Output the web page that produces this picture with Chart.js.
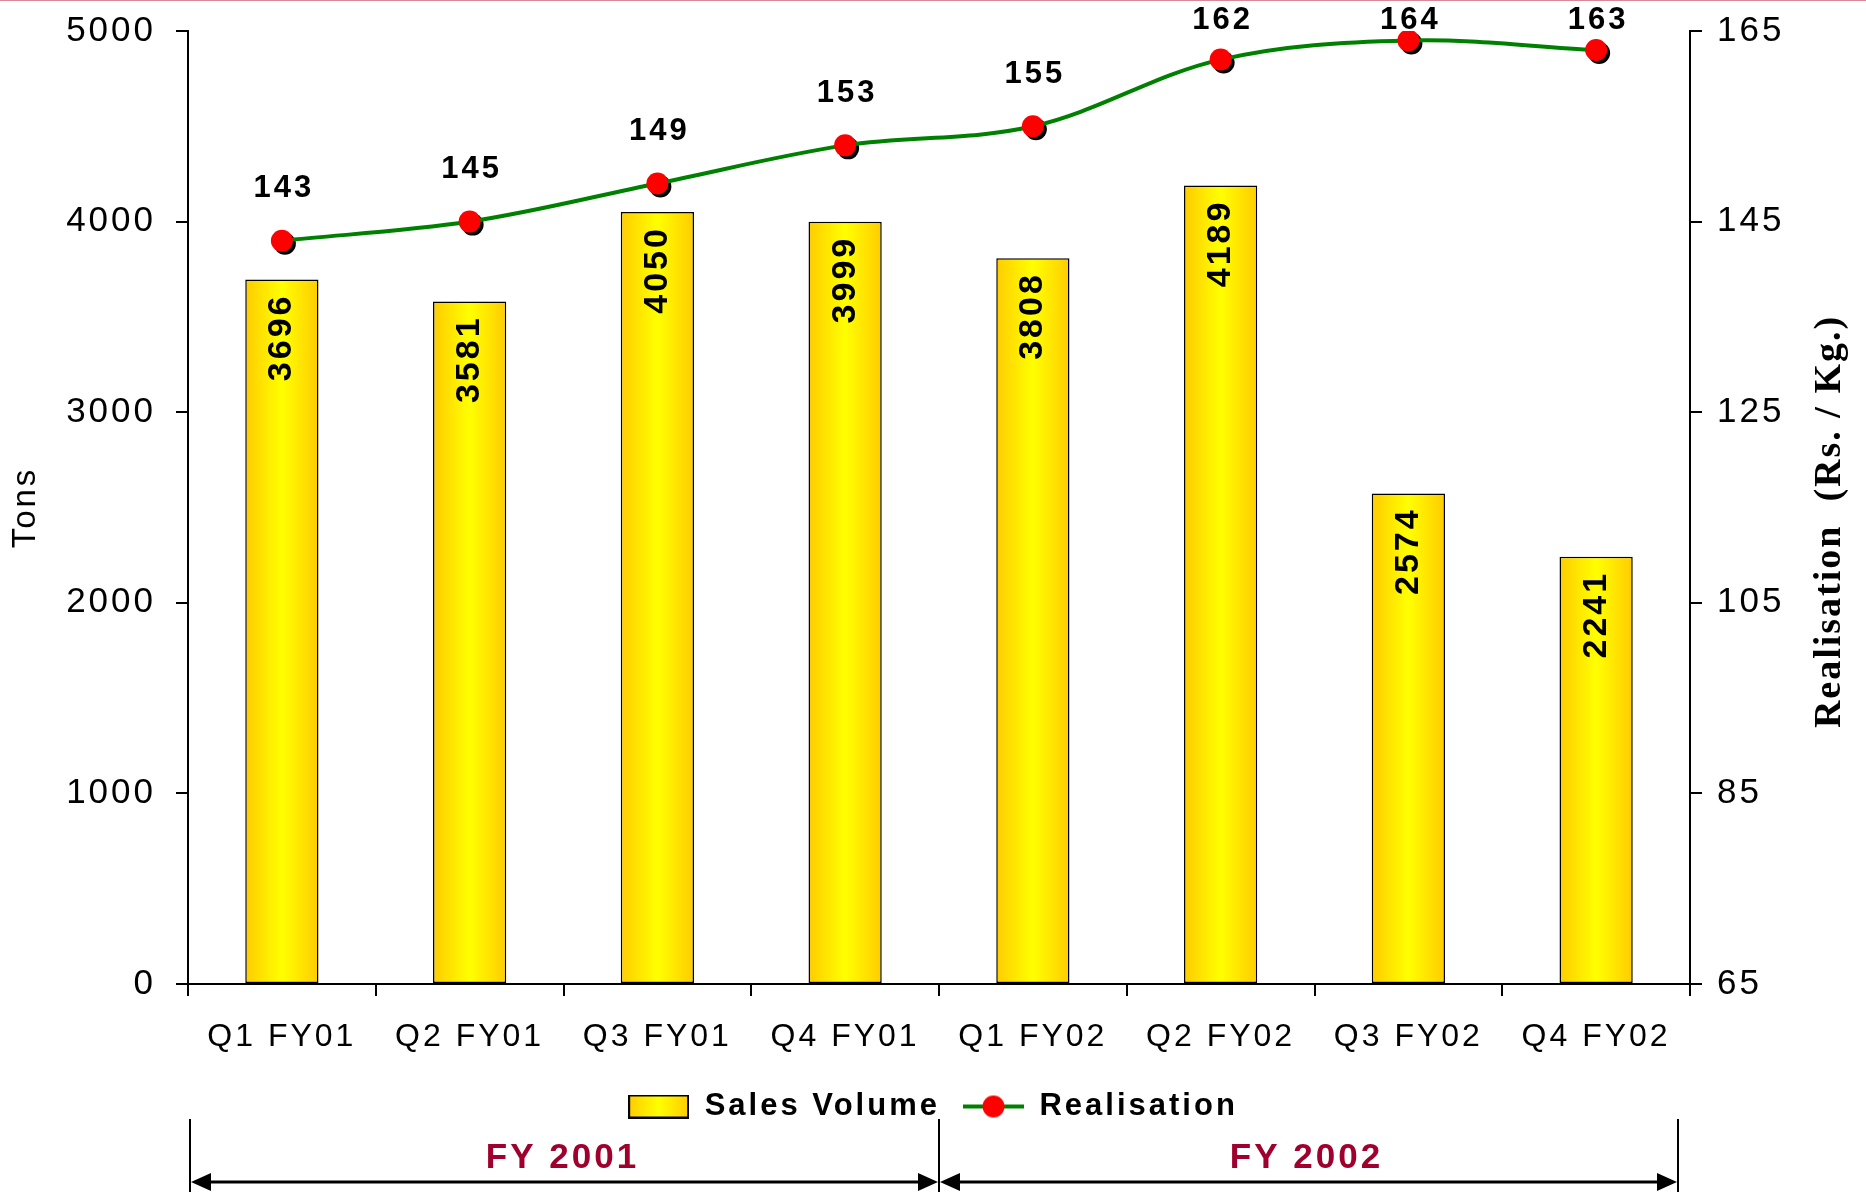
<!DOCTYPE html>
<html>
<head>
<meta charset="utf-8">
<script src="https://cdn.jsdelivr.net/npm/chart.js@4.4.0/dist/chart.umd.min.js"></script>
<style>
  html, body { margin: 0; padding: 0; background: #fff; }
</style>
</head>
<body>
<canvas id="salesChart" width="1866" height="1192"></canvas>
<script>
// values
const quarters = ['Q1 FY01', 'Q2 FY01', 'Q3 FY01', 'Q4 FY01', 'Q1 FY02', 'Q2 FY02', 'Q3 FY02', 'Q4 FY02'];
const salesVolume = [3696, 3581, 4050, 3999, 3808, 4189, 2574, 2241];
const realisation = [143, 145, 149, 153, 155, 162, 164, 163];
const fyLabels = ['FY 2001', 'FY 2002'];
const volumeRange = [0, 5000, 1000];   // min, max, step
const priceRange = [65, 165, 20];

const SANS = '"Liberation Sans", Arial, sans-serif';
const BAR_PCT = 0.39;

function barGradient(ctx, x0, x1) {
  let g = ctx.createLinearGradient(x0, 0, x1, 0);
  g.addColorStop(0, '#FFCC00');
  g.addColorStop(0.5, '#FFFF00');
  g.addColorStop(1, '#FFCC00');
  return g;
}

// bars get a left-to-right gold/yellow fade
function barFill(c) {
  let x = c.chart.scales.x;
  if (c.type !== 'data' || !x) return '#FFEE00';
  let cx = x.getPixelForValue(c.dataIndex);
  let half = x.width / quarters.length * BAR_PCT / 2;
  return barGradient(c.chart.ctx, cx - half, cx + half);
}

// little pictures for the legend
function swatch(w, h, draw) {
  let cv = document.createElement('canvas');
  cv.width = w; cv.height = h;
  draw(cv.getContext('2d'), w, h);
  return cv;
}
const barSwatch = swatch(61, 24, (ctx, w, h) => {
  ctx.fillStyle = barGradient(ctx, 0, w);
  ctx.fillRect(1, 1, w - 2, h - 2);
  ctx.strokeStyle = '#000'; ctx.lineWidth = 2;
  ctx.strokeRect(1, 1, w - 2, h - 2);
});
const lineSwatch = swatch(61, 24, (ctx, w, h) => {
  ctx.strokeStyle = '#008000'; ctx.lineWidth = 4;
  ctx.beginPath(); ctx.moveTo(0, h / 2); ctx.lineTo(w, h / 2); ctx.stroke();
  ctx.fillStyle = '#FF0000';
  ctx.beginPath(); ctx.arc(w / 2, h / 2, 11, 0, Math.PI * 2); ctx.fill();
});

const decor = {
  id: 'decor',
  beforeLayout(chart) { chart.ctx.letterSpacing = '3px'; },
  beforeDraw(chart) {
    let ctx = chart.ctx;
    ctx.letterSpacing = '3px';
    ctx.save();
    ctx.fillStyle = '#D98899';
    ctx.fillRect(0, 0, chart.width, 1);
    ctx.restore();
  },
  beforeDatasetDraw(chart, args) {
    if (chart.data.datasets[args.index].type !== 'line') return;
    let ctx = chart.ctx;
    ctx.save();
    ctx.fillStyle = '#000';
    args.meta.data.forEach(pt => {
      ctx.beginPath(); ctx.arc(pt.x + 3, pt.y + 3, 11, 0, Math.PI * 2); ctx.fill();
    });
    ctx.restore();
  },
  afterDatasetsDraw(chart) {
    let ctx = chart.ctx;
    ctx.save();
    ctx.fillStyle = '#000';
    // volume labels, rotated inside the bars
    ctx.font = 'bold 34px ' + SANS;
    ctx.textAlign = 'right';
    ctx.textBaseline = 'middle';
    chart.getDatasetMeta(0).data.forEach((bar, i) => {
      ctx.save();
      ctx.translate(bar.x, bar.y + 14);
      ctx.rotate(-Math.PI / 2);
      ctx.fillText(salesVolume[i], 0, 0);
      ctx.restore();
    });
    // price labels above the points
    ctx.font = 'bold 31px ' + SANS;
    ctx.textAlign = 'center';
    chart.getDatasetMeta(1).data.forEach((pt, i) => {
      ctx.fillText(realisation[i], pt.x + 2, Math.max(pt.y - 52, 20));
    });
    ctx.restore();
  },
  afterDraw(chart) {
    let ctx = chart.ctx, x = chart.scales.x, area = chart.chartArea;
    ctx.save();
    // right axis title, reading upwards
    ctx.font = 'bold 38px "Liberation Serif", "Times New Roman", serif';
    ctx.letterSpacing = '2px';
    ctx.fillStyle = '#000';
    ctx.textAlign = 'center';
    ctx.textBaseline = 'middle';
    ctx.translate(1830, (area.top + area.bottom) / 2 + 14);
    ctx.rotate(-Math.PI / 2);
    ctx.fillText('Realisation  (Rs. / Kg.)', 0, 0);
    ctx.restore();

    // financial year brackets under the legend
    let xs = [x.left + 2, (x.getPixelForValue(3) + x.getPixelForValue(4)) / 2, x.right - 12];
    let top = chart.height - 73, arrowY = chart.height - 10;
    ctx.save();
    ctx.strokeStyle = '#000';
    ctx.fillStyle = '#000';
    ctx.lineWidth = 2;
    xs.forEach(px => {
      ctx.beginPath(); ctx.moveTo(px, top); ctx.lineTo(px, chart.height); ctx.stroke();
    });
    ctx.lineWidth = 3;
    for (let s = 0; s < 2; s++) {
      let a = xs[s] + 1, b = xs[s + 1] - 1;
      ctx.beginPath(); ctx.moveTo(a + 10, arrowY); ctx.lineTo(b - 10, arrowY); ctx.stroke();
      ctx.beginPath(); ctx.moveTo(a, arrowY); ctx.lineTo(a + 20, arrowY - 9); ctx.lineTo(a + 20, arrowY + 9); ctx.fill();
      ctx.beginPath(); ctx.moveTo(b, arrowY); ctx.lineTo(b - 20, arrowY - 9); ctx.lineTo(b - 20, arrowY + 9); ctx.fill();
    }
    ctx.font = 'bold 35px ' + SANS;
    ctx.fillStyle = '#A0002E';
    ctx.textAlign = 'center';
    ctx.textBaseline = 'middle';
    fyLabels.forEach((t, s) => ctx.fillText(t, (xs[s] + xs[s + 1]) / 2 - 2, chart.height - 34));
    ctx.restore();
  }
};

const axisGrid = { drawOnChartArea: false, color: '#000', lineWidth: 2, tickLength: 12 };
const plainNumber = v => String(v);
// fixed side widths, and no extra room asked for the end labels
const fixWidth = w => s => { s.width = w; s.paddingTop = 0; s.paddingBottom = 0; };

new Chart('salesChart', {
  type: 'bar',
  data: {
    labels: quarters,
    datasets: [{
      type: 'bar',
      label: 'Sales Volume',
      data: salesVolume,
      yAxisID: 'y',
      order: 2,
      backgroundColor: barFill,
      borderColor: '#000',
      borderWidth: 1.5,
      borderSkipped: false,
      barPercentage: BAR_PCT,
      categoryPercentage: 1
    }, {
      type: 'line',
      label: 'Realisation',
      data: realisation,
      yAxisID: 'y1',
      order: 1,
      borderColor: '#008000',
      borderWidth: 4,
      tension: 0.35,
      pointRadius: 11,
      pointHoverRadius: 11,
      pointBackgroundColor: '#FF0000',
      pointBorderWidth: 0
    }]
  },
  options: {
    responsive: false,
    devicePixelRatio: 1,
    animation: false,
    layout: { padding: { top: 31, left: 0, right: 0, bottom: 60 } },
    plugins: {
      tooltip: { enabled: false },
      legend: {
        position: 'bottom',
        labels: {
          usePointStyle: true,
          pointStyleWidth: 61,
          padding: 23,
          color: '#000',
          font: { family: SANS, size: 31, weight: 'bold' },
          generateLabels: chart => [
            { text: chart.data.datasets[0].label, pointStyle: barSwatch, fontColor: '#000', datasetIndex: 0, lineWidth: 0, hidden: false },
            { text: chart.data.datasets[1].label, pointStyle: lineSwatch, fontColor: '#000', datasetIndex: 1, lineWidth: 0, hidden: false }
          ]
        }
      }
    },
    scales: {
      x: {
        grid: axisGrid,
        border: { color: '#000', width: 2 },
        ticks: { color: '#000', padding: 22, maxRotation: 0, font: { family: SANS, size: 32 } },
        afterFit: s => { s.height = 84; }
      },
      y: {
        position: 'left',
        min: volumeRange[0], max: volumeRange[1],
        grid: axisGrid,
        border: { color: '#000', width: 2 },
        ticks: { stepSize: volumeRange[2], color: '#000', padding: 20, callback: plainNumber, font: { family: SANS, size: 35 } },
        title: { display: true, text: 'Tons', color: '#000', padding: { top: 6, bottom: 0 }, font: { family: SANS, size: 33 } },
        afterFit: fixWidth(188)
      },
      y1: {
        position: 'right',
        min: priceRange[0], max: priceRange[1],
        grid: axisGrid,
        border: { color: '#000', width: 2 },
        ticks: { stepSize: priceRange[2], color: '#000', padding: 15, callback: plainNumber, font: { family: SANS, size: 35 } },
        afterFit: fixWidth(176)
      }
    }
  },
  plugins: [decor]
});
</script>
</body>
</html>
